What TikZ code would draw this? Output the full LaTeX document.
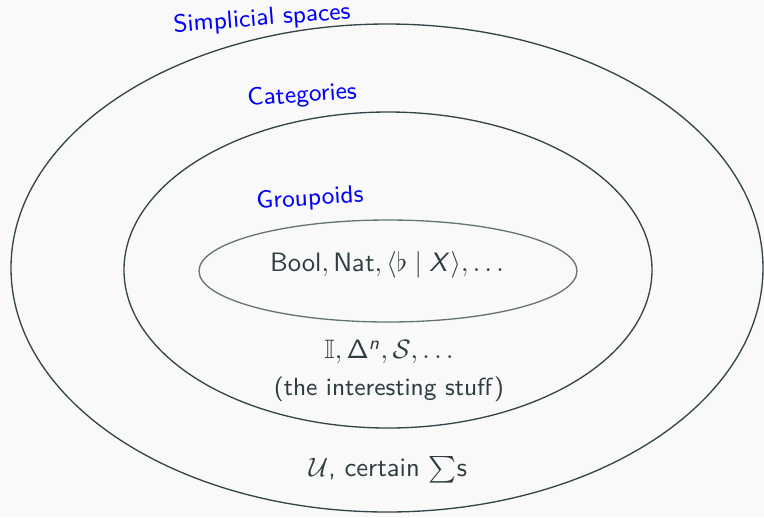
\documentclass[tikz,border=0pt]{standalone}
\usepackage{amsmath, amssymb}
\usepackage{tikz}
\usetikzlibrary{positioning}
\renewcommand{\familydefault}{\sfdefault}
\DeclareMathAlphabet{\mathsfit}{OT1}{cmss}{m}{sl}
\definecolor{inktext}{HTML}{2E3D40}
\definecolor{ringline}{HTML}{34454A}
\definecolor{pagebg}{HTML}{F9F9F9}

\begin{document}
\begin{tikzpicture}[
  x=0.0132cm, y=-0.0132cm,
  ring/.style={draw=ringline, line width=0.5pt},
  innerring/.style={draw=ringline!75, line width=0.5pt},
  setlabel/.style={text=blue, font=\fontsize{9.3}{11}\selectfont, inner sep=0pt},
  member/.style={text=inktext, font=\normalsize, inner sep=0pt}
]
  \fill[pagebg] (0,0) rectangle (764,517);
  \useasboundingbox (0,0) rectangle (764,517);

  % nested universes
  \draw[ring] (387,268) ellipse [x radius=376, y radius=244];
  \draw[ring] (388,270) ellipse [x radius=264, y radius=158];
  \draw[innerring] (388,271) ellipse [x radius=189, y radius=51];

  \node[setlabel, rotate=4.5] (simp) at (262,19) {Simplicial spaces};
  \node[setlabel, rotate=4] (cats) at (302,96) {Categories};
  \node[setlabel, rotate=3.5] (grpd) at (310,199) {Groupoids};

  \node[member] (grpdel) at (387,265) {$\mathsf{Bool}, \mathsf{Nat}, \langle\flat \mid \mathsfit{X}\rangle, \ldots$};
  \node[member] (catel) at (389,352) {$\mathbb{I}, \mathsf{\Delta}^{\mathsfit{n}}, \mathcal{S}, \ldots$};
  \node[member, font=\fontsize{9.3}{11}\selectfont] (catnote) at (389,389) {(the interesting stuff)};
  \node[member] (simpel) at (388,470) {$\mathcal{U}$, certain $\sum$s};
\end{tikzpicture}
\end{document}
